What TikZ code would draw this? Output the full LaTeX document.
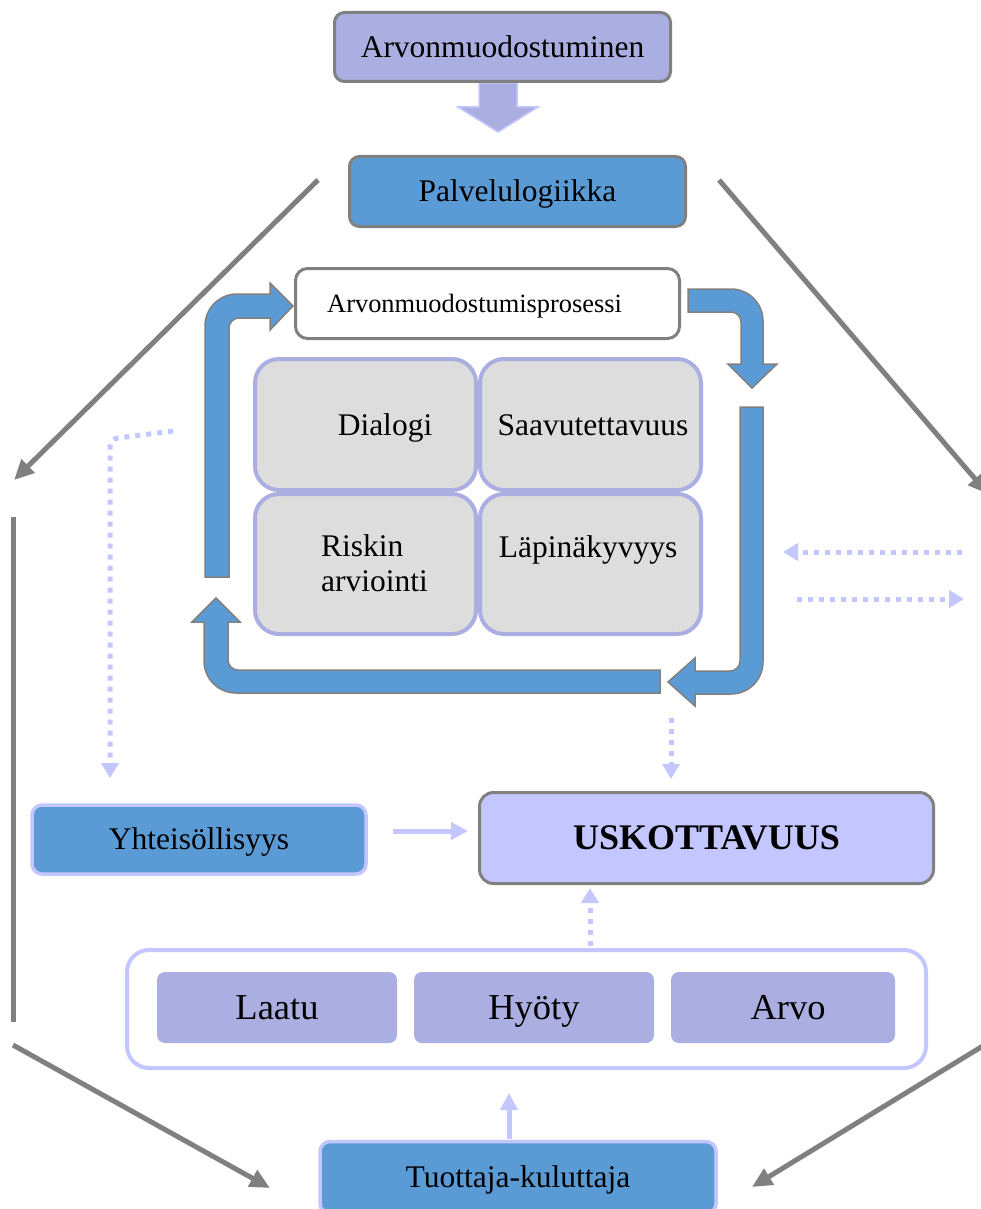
\documentclass[tikz,border=0pt]{standalone}
\usepackage{fontspec}
\setmainfont{Liberation Serif}
\usetikzlibrary{arrows.meta}
\definecolor{lav}{HTML}{AAAEE0}
\definecolor{lavpale}{HTML}{C4C7FF}
\definecolor{blu}{HTML}{5B9BD5}
\definecolor{gry}{HTML}{808080}
\definecolor{cellgray}{HTML}{DDDDDD}
\begin{document}
\begin{tikzpicture}[x=1pt,y=-1pt,
  box/.style={rounded corners=10pt, inner sep=0pt, text depth=0pt, text height=20.6pt,
    font=\fontsize{31.5}{36}\selectfont},
  darkframe/.style={draw=gry, line width=3pt},
  paleframe/.style={draw=lavpale, line width=3.5pt},
  cellbox/.style={draw=lav, line width=4pt, fill=cellgray, rounded corners=24pt, inner sep=0pt,
    minimum width=221pt},
  celltext/.style={anchor=base, inner sep=0pt, font=\fontsize{31.5}{36}\selectfont},
  valuebox/.style={fill=lav, rounded corners=8pt, inner sep=0pt, minimum height=71pt,
    text depth=0pt, text height=23.9pt, font=\fontsize{36.5}{40}\selectfont},
  cyc/.style={fill=blu, draw=gry, line width=1.5pt, line join=miter},
  grayline/.style={draw=gry, line width=5pt},
  grayarrow/.style={grayline, -{Triangle[length=20pt,width=18pt]}},
  dotline/.style={draw=lavpale, line width=5pt, dash pattern=on 5pt off 6pt},
  dotarrow/.style={dotline, -{Triangle[length=15pt,width=17pt]}},
  palearrow/.style={draw=lavpale, line width=5pt, -{Triangle[length=17pt,width=17pt]}},
]
\path[use as bounding box] (0,0) rectangle (981,1209);
\clip (0,0) rectangle (981,1209);
\fill[white] (0,0) rectangle (981,1209);

% outer gray frame of connectors
\coordinate (gTLs) at (318,180);  \coordinate (gTLe) at (14,480);
\coordinate (gTRs) at (719,180);  \coordinate (gTRe) at (988,494);
\coordinate (gLs)  at (13,517);   \coordinate (gLe)  at (13,1022);
\coordinate (gBLs) at (13,1045);  \coordinate (gBLe) at (270,1188);
\coordinate (gBRs) at (986,1044); \coordinate (gBRe) at (752,1187);
\draw[grayarrow] (gTLs) -- (gTLe);
\draw[grayarrow] (gTRs) -- (gTRe);
\draw[grayline]  (gLs) -- (gLe);
\draw[grayarrow] (gBLs) -- (gBLe);
\draw[grayarrow] (gBRs) -- (gBRe);

% block arrow between the two top boxes
\draw[fill=lav, draw=lavpale, line width=1.5pt]
  (479,83) -- (517,83) -- (517,107) -- (538,107) -- (498,132) -- (458,107) -- (479,107) -- cycle;

\node[box, darkframe, fill=lav, minimum width=336pt, minimum height=69pt] (arv) at (502.5,47) {Arvonmuodostuminen};
\node[box, darkframe, fill=blu, minimum width=336pt, minimum height=70pt] (pal) at (517.5,191.5) {Palvelulogiikka};

% process box
\node[darkframe, fill=white, rounded corners=12pt, inner sep=0pt, minimum width=384pt, minimum height=70pt] (proc) at (487.5,303.5) {};
\node[anchor=base west, inner sep=0pt, font=\fontsize{26.4}{30}\selectfont] (proctext) at (327,312) {Arvonmuodostumisprosessi};

% circular process arrows
\draw[cyc] (205,577) -- (205,326) arc[start angle=180,end angle=270,radius=32]
  -- (270,294) -- (270,283) -- (293,306) -- (270,330) -- (270,318) -- (239,318)
  arc[start angle=270,end angle=180,radius=10] -- (229,577) -- cycle;
\draw[cyc] (688,289) -- (731,289) arc[start angle=270,end angle=360,radius=32]
  -- (763,364) -- (777,364) -- (752,388) -- (728,364) -- (741,364) -- (741,322)
  arc[start angle=0,end angle=-90,radius=10] -- (688,312) -- cycle;
\draw[cyc] (740,407) -- (763,407) -- (763,662) arc[start angle=0,end angle=90,radius=32]
  -- (695,694) -- (695,706) -- (668,682) -- (695,658) -- (695,671) -- (730,671)
  arc[start angle=90,end angle=0,radius=10] -- cycle;
\draw[cyc] (660,670) -- (660,693) -- (236,693) arc[start angle=90,end angle=180,radius=32]
  -- (204,622) -- (192,622) -- (216,598) -- (240,622) -- (228,622) -- (228,660)
  arc[start angle=180,end angle=90,radius=10] -- cycle;

% four cells
\node[cellbox, minimum height=131pt] (dia) at (365.5,424.5) {};
\node[cellbox, minimum height=131pt] (saa) at (590.5,424.5) {};
\node[cellbox, minimum height=140pt] (ris) at (365.5,564) {};
\node[cellbox, minimum height=140pt] (lap) at (590.5,564) {};
\node[celltext] (diat) at (385,435) {Dialogi};
\node[celltext] (saat) at (593,435) {Saavutettavuus};
\node[celltext, anchor=base west] (rist) at (321,556) {Riskin};
\node[celltext, anchor=base west] (arvt) at (321,591) {arviointi};
\node[celltext] (lapt) at (588,557) {Läpinäkyvyys};

% dotted links
\coordinate (dLs) at (173,431); \coordinate (dLe) at (110,778);
\draw[dotarrow, rounded corners=8pt] (dLs) -- (110,439) -- (dLe);
\coordinate (dR1s) at (962,552); \coordinate (dR1e) at (783,552);
\coordinate (dR2s) at (797,599); \coordinate (dR2e) at (964,599);
\draw[dotarrow] (dR1s) -- (dR1e);
\draw[dotarrow] (dR2s) -- (dR2e);
\coordinate (dMs) at (671,718); \coordinate (dMe) at (671,779);
\draw[dotarrow] (dMs) -- (dMe);

% lower part
\node[box, paleframe, fill=blu, minimum width=334pt, minimum height=69pt] (yht) at (199,839.5) {Yhteisöllisyys};
\node[box, darkframe, fill=lavpale, minimum width=454pt, minimum height=91pt, rounded corners=14pt,
  font=\fontsize{36}{40}\selectfont\bfseries, text height=23.6pt] (usk) at (706.5,838) {USKOTTAVUUS};
\coordinate (yhtout) at (393,831); \coordinate (uskin) at (468,831);
\draw[palearrow] (yhtout) -- (uskin);

\node[draw=lavpale, line width=4pt, fill=white, rounded corners=22pt, inner sep=0pt,
  minimum width=799pt, minimum height=118pt] (frame) at (526.5,1009) {};
\node[valuebox, minimum width=240pt] (laatu) at (277,1007.5) {Laatu};
\node[valuebox, minimum width=240pt] (hyoty) at (534,1007.5) {Hyöty};
\node[valuebox, minimum width=224pt] (arvo) at (783,1007.5) {\hspace*{10pt}Arvo};
\coordinate (frameout) at (590,946); \coordinate (uskbelow) at (590,888);
\draw[dotarrow] (frameout) -- (uskbelow);

\node[box, paleframe, fill=blu, minimum width=396pt, minimum height=72pt] (tuo) at (518,1177.5) {Tuottaja-kuluttaja};
\coordinate (tuoout) at (509,1139); \coordinate (framein) at (509,1093);
\draw[palearrow] (tuoout) -- (framein);
\end{tikzpicture}
\end{document}
